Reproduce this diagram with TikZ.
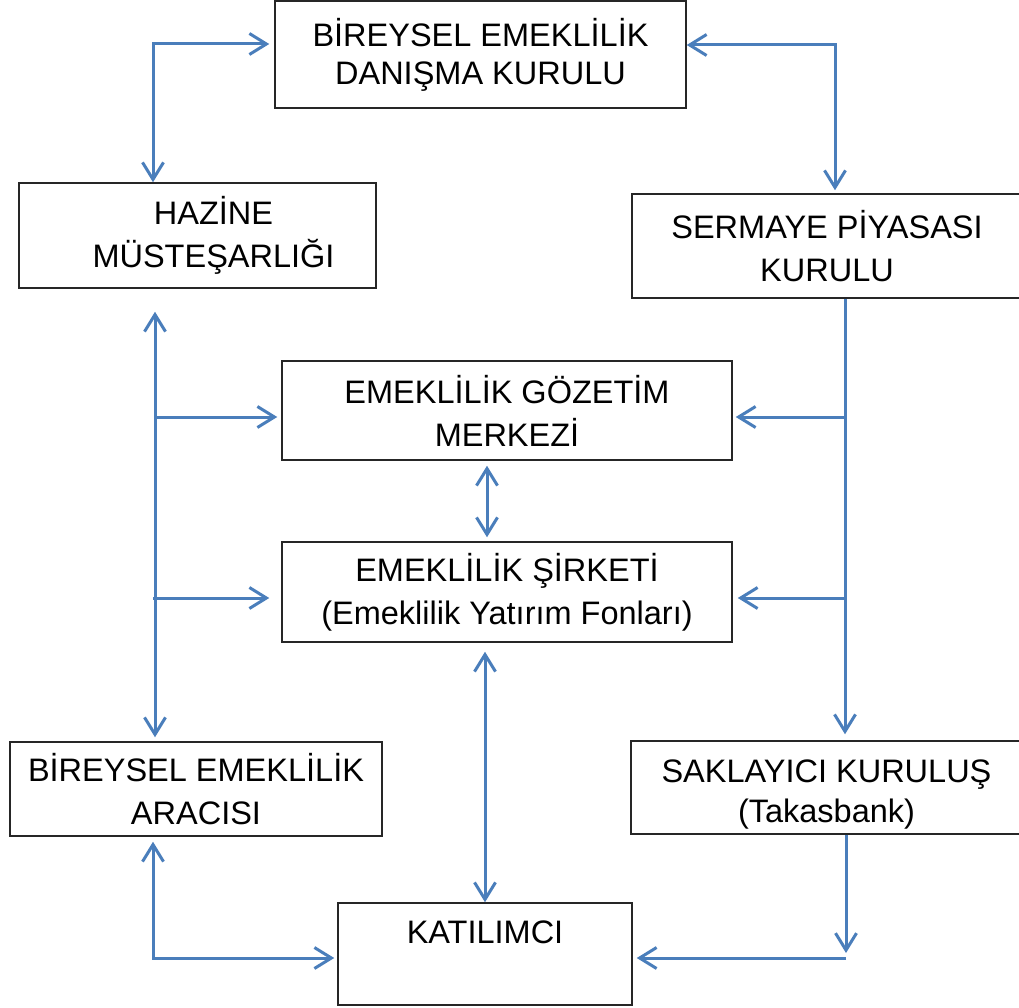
\documentclass[tikz,border=0pt]{standalone}
\usepackage{fontspec}
\setmainfont{Liberation Sans}
\usetikzlibrary{arrows.meta}
\definecolor{conblue}{HTML}{4A7EBB}
\begin{document}
\begin{tikzpicture}[x=1pt,y=-1pt,
  box/.style={draw=black!85,line width=1.5pt,rectangle,inner sep=0pt,align=center,
    font=\fontsize{32.5}{43}\selectfont},
  con/.style={draw=conblue,line width=3pt,>={Straight Barb[length=17pt,width=21pt]}},
  lbl/.style={inner sep=0pt,align=center,font=\fontsize{32.5}{43}\selectfont}]
\useasboundingbox[fill=white] (0,0) rectangle (1019,1008);

% boxes
\node[box,minimum width=411pt,minimum height=107pt,font=\fontsize{32.5}{38}\selectfont] (bedk) at (480.5,54.5) {BİREYSEL EMEKLİLİK\\DANIŞMA KURULU};
\node[box,minimum width=357pt,minimum height=105pt] (haz) at (197.5,235.5) {\hspace*{32pt}HAZİNE\\\hspace*{32pt}MÜSTEŞARLIĞI};
\node[box,minimum width=390pt,minimum height=104pt] (spk) at (827,246) {SERMAYE PİYASASI\\KURULU};
\node[box,minimum width=450pt,minimum height=99pt] (goz) at (507,410.5) {EMEKLİLİK GÖZETİM\\MERKEZİ};
\node[box,minimum width=450pt,minimum height=100pt] (sir) at (507,592) {EMEKLİLİK ŞİRKETİ\\(Emeklilik Yatırım Fonları)};
\node[box,minimum width=372pt,minimum height=94pt] (ara) at (196,789) {BİREYSEL EMEKLİLİK\\ARACISI};
\node[box,minimum width=391pt,minimum height=93pt,font=\fontsize{32.5}{40}\selectfont] (sak) at (826.5,787.5) {\rule{0pt}{37pt}SAKLAYICI KURULUŞ\\(Takasbank)};
\node[box,minimum width=294pt,minimum height=102pt] (kat) at (485,954) {};
\node[lbl] (katT) at (485,932) {KATILIMCI};

% helper coordinates
\coordinate (ltc) at (153,44);
\coordinate (rtc) at (835,45);
\coordinate (ls) at (155,0);
\coordinate (rs) at (845,0);
\coordinate (b1) at (155,417);
\coordinate (b2) at (153,598);
\coordinate (r1) at (845,417);
\coordinate (r2) at (845,598);
\coordinate (mx) at (487,0);
\coordinate (mx2) at (485,0);
\coordinate (blc) at (153,958);
\coordinate (brd) at (846,953);
\coordinate (brc) at (846,958);

% connectors
\draw[con,<->,shorten <=5pt] (bedk.west |- ltc) -- (ltc) -- (ltc |- haz.north);
\draw[con,<->,shorten >=3pt] (bedk.east |- rtc) -- (rtc) -- (rtc |- spk.north);
\draw[con,<->,shorten <=23pt,shorten >=4pt] (ls |- haz.south) -- (ls |- ara.north);
\draw[con,->,shorten >=4pt] (b1) -- (b1 -| goz.west);
\draw[con,->,shorten >=12pt] (b2) -- (b2 -| sir.west);
\draw[con,->,shorten >=6pt] (rs |- spk.south) -- (rs |- sak.north);
\draw[con,->,shorten >=3pt] (r1) -- (r1 -| goz.east);
\draw[con,->,shorten >=5pt] (r2) -- (r2 -| sir.east);
\draw[con,<->,shorten <=5pt,shorten >=4pt] (mx |- goz.south) -- (mx |- sir.north);
\draw[con,<->,shorten <=9pt] (mx2 |- sir.south) -- (mx2 |- kat.north);
\draw[con,<->,shorten <=5pt,shorten >=3pt] (ara.south -| blc) -- (blc) -- (blc -| kat.west);
\draw[con,->] (sak.south -| brd) -- (brd);
\draw[con,->,shorten >=4pt] (brc) -- (brc -| kat.east);
\end{tikzpicture}
\end{document}
